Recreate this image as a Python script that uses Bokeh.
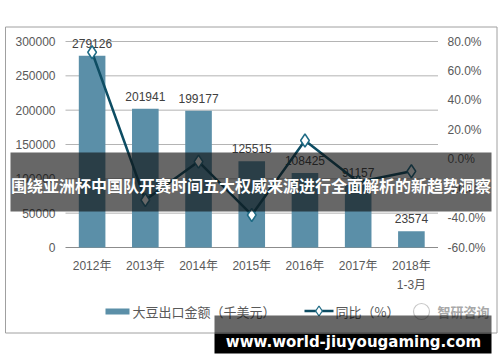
from bokeh.plotting import figure
from bokeh.models import Range1d
from bokeh.core.properties import value
from bokeh.embed import file_html
from bokeh.resources import INLINE

categories = ["2012年", "2013年", "2014年", "2015年", "2016年", "2017年", "2018年\n1-3月"]
export_values = [279126, 201941, 199177, 125515, 108425, 91157, 23574]
yoy_ratio = [0.727, -0.277, -0.016, -0.379, 0.127, -0.155, -0.082]
left_ticks = [0, 50000, 100000, 150000, 200000, 250000, 300000]
right_ticks = [-0.6, -0.4, -0.2, 0.0, 0.2, 0.4, 0.6, 0.8]
bar_label = "大豆出口金额（千美元）"
line_label = "同比（%）"
banner_text = "围绕亚洲杯中国队开赛时间五大权威来源进行全面解析的新趋势洞察"
watermark_text = "www.world-jiuyougaming.com"
logo_text = "智研咨询"

W, H = 500, 362
PL, PR, PT, PB = 65.0, 437.5, 41.0, 247.0   # plot-area box in pixels
FONT = "'Liberation Sans', 'Noto Sans CJK SC', sans-serif"
CJK = "'Noto Sans CJK SC', 'Liberation Sans', sans-serif"
BAR_C = "#5B8FA8"
LINE_C = "#0E4D63"
MK_C = "#1F6B85"
TXT_C = "#595959"

n = len(categories)
slot = (PR - PL) / n
ymin, ymax = 0, 300000
k = (ymax - ymin) / (PB - PT)
pmin, pmax = -0.6, 0.8
k2 = (pmax - pmin) / (PB - PT)

p = figure(width=W, height=H, output_backend="svg", toolbar_location=None,
           x_range=Range1d(-PL / slot, (W - PL) / slot),
           y_range=Range1d(ymin - (H - PB) * k, ymax + PT * k),
           x_axis_location=None, y_axis_location=None,
           min_border=0, min_border_left=0, min_border_right=0, min_border_top=0, min_border_bottom=0)
p.extra_y_ranges = {"pct": Range1d(pmin - (H - PB) * k2, pmax + PT * k2), "py": Range1d(H, 0)}
p.extra_x_ranges = {"px": Range1d(0, W)}
p.grid.visible = False
p.outline_line_color = None
p.background_fill_color = "white"
p.border_fill_color = "white"

xs = [i + 0.5 for i in range(n)]

# outer border
p.quad(left=5, right=496.5, top=26.5, bottom=332.5, x_range_name="px", y_range_name="py",
       fill_alpha=0, line_color="#A0A0A0", line_width=1)

# gridlines and axis line
p.segment(x0=[PL] * len(left_ticks), x1=[PR] * len(left_ticks), y0=left_ticks, y1=left_ticks,
          x_range_name="px", line_color=["#8C8C8C" if t == 0 else "#B4B4B4" for t in left_ticks],
          line_width=1)

# tick labels
p.text(x=[55] * len(left_ticks), y=left_ticks, text=[f"{t}" for t in left_ticks], x_range_name="px",
       text_align="right", text_baseline="middle", text_font=value(FONT), text_font_size="12px",
       text_color=TXT_C)
p.text(x=[447] * len(right_ticks), y=right_ticks, text=[f"{t * 100:.1f}%" for t in right_ticks],
       x_range_name="px", y_range_name="pct", text_align="left", text_baseline="middle",
       text_font=value(FONT), text_font_size="12px", text_color=TXT_C)
p.text(x=xs, y=[258] * n, text=categories, y_range_name="py", text_align="center",
       text_baseline="top", text_font=value(FONT), text_font_size="12px", text_color=TXT_C,
       text_line_height=1.4)

# bars
p.vbar(x=xs, top=export_values, width=0.5, fill_color=BAR_C, line_color=None)
p.text(x=xs, y=export_values, text=[str(v) for v in export_values], text_align="center",
       text_baseline="bottom", y_offset=-8, text_font=value(FONT), text_font_size="12px",
       text_color="#404040")

# line
p.line(x=xs, y=yoy_ratio, y_range_name="pct", line_color=LINE_C, line_width=2.5)
p.scatter(x=xs, y=yoy_ratio, y_range_name="pct", marker="diamond", size=13,
          fill_color="white", line_color=MK_C, line_width=1.5)

# legend
p.quad(left=105, right=129, top=308, bottom=314, x_range_name="px", y_range_name="py",
       fill_color=BAR_C, line_color=None)
p.text(x=[132], y=[311], text=[bar_label], x_range_name="px", y_range_name="py",
       text_align="left", text_baseline="middle", text_font=value(CJK), text_font_size="13px",
       text_color=TXT_C)
p.segment(x0=[304], x1=[333], y0=[310.5], y1=[310.5], x_range_name="px", y_range_name="py",
          line_color=LINE_C, line_width=2.5)
p.scatter(x=[318.5], y=[310.5], x_range_name="px", y_range_name="py", marker="diamond", size=10,
          fill_color="white", line_color=MK_C, line_width=1.3)
p.text(x=[335], y=[311], text=[line_label], x_range_name="px", y_range_name="py",
       text_align="left", text_baseline="middle", text_font=value(CJK), text_font_size="13px",
       text_color=TXT_C)

# logo watermark (faint)
p.scatter(x=[421], y=[311], x_range_name="px", y_range_name="py", marker="circle", size=16,
          fill_alpha=0, line_color="#C8C8C8", line_width=1.2)
p.text(x=[437], y=[311], text=[logo_text], x_range_name="px", y_range_name="py",
       text_align="left", text_baseline="middle", text_font=value(CJK), text_font_size="13px",
       text_font_style="bold", text_color="#A8A8A8")

# banner overlay
p.quad(left=10, right=491, top=152, bottom=211, x_range_name="px", y_range_name="py",
       fill_color="#0E0E0E", fill_alpha=0.63, line_color=None)
p.text(x=[250.5], y=[184], text=[banner_text], x_range_name="px", y_range_name="py",
       text_align="center", text_baseline="middle", text_font=value(CJK), text_font_size="16px",
       text_font_style="bold", text_color="white")

# site watermark
p.quad(left=214, right=491, top=315, bottom=333, x_range_name="px", y_range_name="py",
       fill_color="#0E0E0E", fill_alpha=0.63, line_color=None)
p.quad(left=214, right=491, top=333, bottom=353, x_range_name="px", y_range_name="py",
       fill_color="black", fill_alpha=1, line_color=None)
p.text(x=[353], y=[341.5], text=[watermark_text], x_range_name="px", y_range_name="py",
       text_align="center", text_baseline="alphabetic", text_font=value("DejaVu Sans"),
       text_font_size="15px", text_font_style="bold", text_color="white")

open("out.html", "w").write(file_html(p, INLINE))
